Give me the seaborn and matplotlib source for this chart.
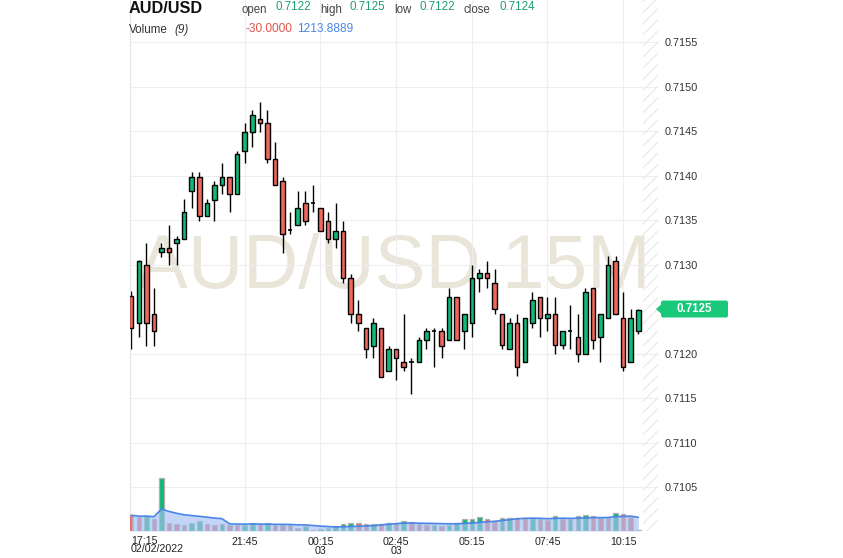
import numpy as np
import pandas as pd
import matplotlib
matplotlib.use("Agg")
import matplotlib.pyplot as plt
import seaborn as sns
from matplotlib.patches import FancyBboxPatch, Polygon

# ---------------- data ----------------
opens = [0.71265, 0.71234, 0.71299, 0.71244, 0.71314, 0.71319, 0.71324, 0.71329, 0.71383, 0.71398,
         0.71354, 0.71373, 0.71389, 0.71398, 0.71379, 0.71428, 0.71449, 0.71463, 0.71459, 0.71418,
         0.71394, 0.71339, 0.71344, 0.71369, 0.71369, 0.71364, 0.71349, 0.71329, 0.71338, 0.71285,
         0.71244, 0.71229, 0.71209, 0.71229, 0.71180, 0.71205, 0.71190, 0.71190, 0.71190, 0.71215,
         0.71225, 0.71225, 0.71215, 0.71264, 0.71225, 0.71234, 0.71285, 0.71290, 0.71279, 0.71244,
         0.71205, 0.71234, 0.71190, 0.71234, 0.71264, 0.71240, 0.71244, 0.71210, 0.71225, 0.71219,
         0.71200, 0.71274, 0.71219, 0.71240, 0.71304, 0.71240, 0.71190, 0.71225]
highs = [0.71270, 0.71305, 0.71324, 0.71274, 0.71324, 0.71344, 0.71332, 0.71374, 0.71404, 0.71404,
         0.71374, 0.71394, 0.71414, 0.71398, 0.71428, 0.71459, 0.71474, 0.71483, 0.71474, 0.71438,
         0.71398, 0.71359, 0.71383, 0.71383, 0.71389, 0.71364, 0.71359, 0.71369, 0.71349, 0.71289,
         0.71260, 0.71229, 0.71240, 0.71229, 0.71209, 0.71205, 0.71244, 0.71195, 0.71219, 0.71229,
         0.71229, 0.71229, 0.71274, 0.71264, 0.71244, 0.71299, 0.71295, 0.71304, 0.71295, 0.71244,
         0.71240, 0.71244, 0.71240, 0.71269, 0.71264, 0.71264, 0.71264, 0.71225, 0.71254, 0.71244,
         0.71274, 0.71274, 0.71244, 0.71310, 0.71310, 0.71269, 0.71250, 0.71250]
lows = [0.71205, 0.71219, 0.71209, 0.71209, 0.71309, 0.71299, 0.71299, 0.71329, 0.71364, 0.71349,
        0.71354, 0.71349, 0.71379, 0.71359, 0.71379, 0.71414, 0.71432, 0.71449, 0.71414, 0.71389,
        0.71313, 0.71334, 0.71344, 0.71344, 0.71359, 0.71338, 0.71324, 0.71319, 0.71279, 0.71234,
        0.71225, 0.71195, 0.71195, 0.71174, 0.71180, 0.71170, 0.71180, 0.71155, 0.71190, 0.71205,
        0.71185, 0.71195, 0.71215, 0.71215, 0.71205, 0.71219, 0.71269, 0.71274, 0.71244, 0.71205,
        0.71205, 0.71175, 0.71190, 0.71229, 0.71219, 0.71225, 0.71200, 0.71205, 0.71205, 0.71190,
        0.71200, 0.71205, 0.71190, 0.71240, 0.71244, 0.71180, 0.71190, 0.71222]
closes = [0.71229, 0.71304, 0.71234, 0.71225, 0.71319, 0.71314, 0.71329, 0.71359, 0.71398, 0.71354,
          0.71369, 0.71389, 0.71398, 0.71379, 0.71424, 0.71449, 0.71468, 0.71459, 0.71418, 0.71389,
          0.71334, 0.71339, 0.71364, 0.71349, 0.71369, 0.71338, 0.71329, 0.71338, 0.71285, 0.71244,
          0.71234, 0.71205, 0.71234, 0.71174, 0.71205, 0.71195, 0.71185, 0.71190, 0.71215, 0.71225,
          0.71225, 0.71209, 0.71264, 0.71215, 0.71244, 0.71285, 0.71290, 0.71285, 0.71250, 0.71210,
          0.71234, 0.71185, 0.71240, 0.71260, 0.71240, 0.71244, 0.71210, 0.71225, 0.71225, 0.71200,
          0.71269, 0.71215, 0.71244, 0.71299, 0.71244, 0.71185, 0.71240, 0.71249]
volumes = [1382, 1232, 1320, 1082, 4638, 678, 590, 502, 730, 854,
           590, 572, 598, 554, 502, 528, 678, 616, 730, 528,
           519, 510, 290, 440, 62, 150, 290, 440, 642, 730,
           678, 590, 642, 616, 730, 722, 854, 766, 590, 528,
           546, 440, 528, 730, 1082, 1100, 1258, 1082, 880, 1170,
           1188, 1170, 1118, 1170, 1030, 942, 1320, 1030, 1038, 1320,
           1408, 1320, 1170, 1162, 1610, 1522, 1232, 88]
tick_pos = [15, 25, 35, 45, 55, 65]
tick_labels = ["21:45", "00:15\n03", "02:45\n03", "05:15", "07:45", "10:15"]
first_label = "17:15\n02/02/2022"
price_ticks = [0.7105, 0.7110, 0.7115, 0.7120, 0.7130, 0.7135, 0.7140, 0.7145, 0.7150, 0.7155]
last_price = 0.7125
ma_period = 9
symbol = "AUD/USD"
watermark = "AUD/USD 15M"
hdr_open, hdr_high, hdr_low, hdr_close = "0.7122", "0.7125", "0.7122", "0.7124"
vol_delta, vol_ma = "-30.0000", "1213.8889"

# ---------------- style ----------------
sns.set_style("white")
plt.rcParams["font.family"] = ["Liberation Sans", "DejaVu Sans"]
plt.rcParams["hatch.linewidth"] = 0.8

GREEN = "#12b875"
RED = "#f0675c"
HGREEN = "#1f9e76"

W, H = 843, 558
fig = plt.figure(figsize=(W / 100, H / 100), dpi=100)
ax = fig.add_axes([130 / W, (H - 531) / H, 528 / W, 531 / H])
ax.set_facecolor("none")

n = len(opens)
x = np.arange(n)
o = np.array(opens); h = np.array(highs); l = np.array(lows); c = np.array(closes)

xl, xr = -0.16, 69.6
ax.set_xlim(xl, xr)
ax.set_ylim(0.710006, 0.715972)

# watermark
ax.text(0.5, 0.7155 - (288 - 42) / 89000, watermark, transform=ax.get_yaxis_transform(),
        ha="center", va="baseline", fontsize=55, color="#e9e5d9", zorder=0.5)

# hatched future region
ax.axvspan(67.6, xr, facecolor="none", edgecolor="#e8e8e8", hatch="///", lw=0, zorder=0.6)

# candles
ax.vlines(x, l, h, color="black", lw=1, zorder=2)
up = c > o
dn = c < o
dj = c == o
ax.bar(x[up], (c - o)[up], bottom=o[up], width=0.6, color=GREEN, edgecolor="black", lw=1, zorder=3)
ax.bar(x[dn], (o - c)[dn], bottom=c[dn], width=0.6, color=RED, edgecolor="black", lw=1, zorder=3)
ax.hlines(o[dj], x[dj] - 0.3, x[dj] + 0.3, color="black", lw=1.2, zorder=3)

# axes formatting
ax.grid(True, color="#eeeeee", lw=0.8)
ax.set_axisbelow(True)
for s in ["top", "right", "bottom"]:
    ax.spines[s].set_visible(False)
ax.spines["left"].set_color("#e6e6e6")
ax.spines["left"].set_linewidth(0.8)
ax.set_xticks(tick_pos)
ax.set_xticklabels(tick_labels)
ax.tick_params(axis="x", length=0, pad=4.5, labelsize=7.7, labelcolor="#222222")
for lbl in ax.get_xticklabels():
    lbl.set_linespacing(0.85)

# volume pane
axv = ax.twinx()
axv.set_ylim(0, 531 * 88)
axv.set_xlim(xl, xr)
vol = np.array(volumes)
vcol = [RED] + [GREEN if vol[i] > vol[i - 1] else RED for i in range(1, n)]
axv.bar(x, vol, width=0.6, color=vcol, edgecolor="#b0b0b0", lw=0.9, zorder=2)
ma = pd.Series(vol).rolling(ma_period, min_periods=1).mean().values
axv.fill_between(x, 0, ma, color="#a3c1f3", alpha=0.65, lw=0, zorder=3)
sns.lineplot(x=x, y=ma, ax=axv, color="#4a86e8", lw=1.2, zorder=4)
axv.set_yticks([])
axv.set_ylabel("")
for s in axv.spines.values():
    s.set_visible(False)
axv.tick_params(length=0)

# price axis on the right (after twinx, which moves ticks left)
ax.yaxis.tick_right()
ax.set_yticks(price_ticks)
ax.set_yticklabels([f"{p:.4f}" for p in price_ticks])
ax.tick_params(axis="y", which="both", left=False, right=False, labelleft=False,
               labelright=True, length=0, pad=5, labelsize=7.8, labelcolor="#333333")

# overlay in pixel coordinates
ov = fig.add_axes([0, 0, 1, 1], facecolor="none")
ov.set_xlim(0, W); ov.set_ylim(0, H); ov.axis("off")

def T(xp, yp_top, s, **kw):
    ov.text(xp, H - yp_top, s, **kw)

T(129, 13.3, symbol, fontsize=11.7, fontweight="bold", color="#111111", va="baseline")
T(241, 12.7, "open", fontsize=8.3, color="#444444", va="baseline")
T(275, 9.5, hdr_open, fontsize=8.4, color=HGREEN, va="baseline")
T(320, 12.7, "high", fontsize=8.3, color="#444444", va="baseline")
T(349, 9.5, hdr_high, fontsize=8.4, color=HGREEN, va="baseline")
T(394, 12.7, "low", fontsize=8.3, color="#444444", va="baseline")
T(419, 9.5, hdr_low, fontsize=8.4, color=HGREEN, va="baseline")
T(464, 12.7, "close", fontsize=8.3, color="#444444", va="baseline")
T(499, 9.5, hdr_close, fontsize=8.4, color=HGREEN, va="baseline")
T(129, 33.3, "Volume", fontsize=8.4, color="#333333", va="baseline")
T(174, 33.3, "(9)", fontsize=8.4, color="#333333", va="baseline", style="italic")
T(246, 32.5, vol_delta, fontsize=8.6, color="#e0554c", va="baseline")
T(297, 32.5, vol_ma, fontsize=8.6, color="#4a86e8", va="baseline")

# first x label (clamped at left edge)
T(131, 535.5, first_label, fontsize=7.7, color="#222222", va="top", ha="left", linespacing=0.85)

# last price badge
fig.canvas.draw()
yb = ax.transData.transform((0, last_price))[1]
badge = FancyBboxPatch((661, yb - 8.5), 67, 17, boxstyle="round,pad=0,rounding_size=2",
                       facecolor="#19c879", edgecolor="none", zorder=5)
ov.add_patch(badge)
ov.add_patch(Polygon([[656, yb], [661.5, yb + 5], [661.5, yb - 5]], closed=True,
                     facecolor="#19c879", edgecolor="none", zorder=5))
ov.text(694.5, yb, f"{last_price:.4f}", ha="center", va="center", fontsize=8.3,
        fontweight="bold", color="white", zorder=6)

fig.savefig("out.png", dpi=100)
